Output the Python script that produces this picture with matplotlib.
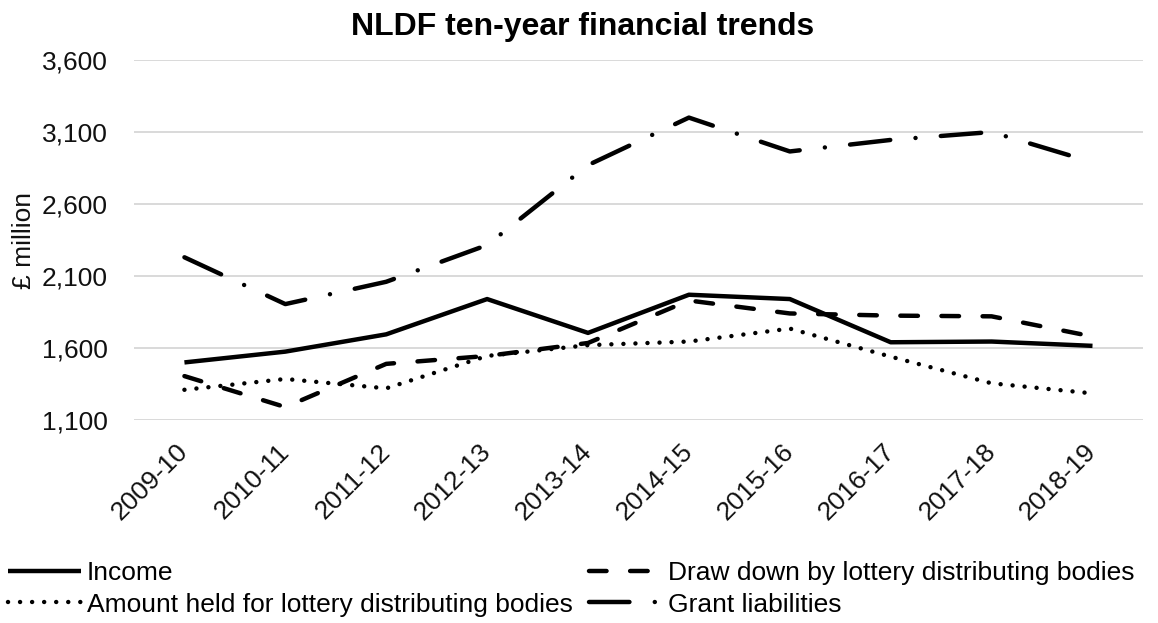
import matplotlib
matplotlib.use("Agg")
import matplotlib.pyplot as plt
from matplotlib.ticker import StrMethodFormatter

plt.rcParams["font.family"] = ["Liberation Sans", "DejaVu Sans"]

years = ["2009-10", "2010-11", "2011-12", "2012-13", "2013-14",
         "2014-15", "2015-16", "2016-17", "2017-18", "2018-19"]

# £ million
income = [1500, 1575, 1695, 1940, 1705, 1970, 1940, 1640, 1645, 1615]
draw_down = [1405, 1190, 1490, 1545, 1635, 1930, 1840, 1825, 1820, 1680]
amount_held = [1310, 1385, 1320, 1545, 1620, 1645, 1735, 1540, 1355, 1285]
grant_liabilities = [2230, 1905, 2060, 2315, 2870, 3200, 2965, 3045, 3100, 2890]

y_ticks = [1100, 1600, 2100, 2600, 3100, 3600]

FS = 19
LW = 3.2

fig = plt.figure(figsize=(11.58, 6.23), dpi=100)
ax = fig.add_axes([0.1157, 0.3258, 0.8713, 0.5779])

x = range(len(years))
common = dict(color="black", lw=LW, solid_joinstyle="round",
              dash_joinstyle="round", dash_capstyle="round",
              solid_capstyle="butt")

l_income, = ax.plot(x, income, label="Income", **common)
l_draw, = ax.plot(x, draw_down, label="Draw down by lottery distributing bodies",
                  dashes=(3.95, 5.3), **common)
l_held, = ax.plot(x, amount_held, label="Amount held for lottery distributing bodies",
                  dashes=(0.01, 2.7), **common)
l_grant, = ax.plot(x, grant_liabilities, label="Grant liabilities",
                   dashes=(9.1, 5.7, 0.01, 5.7), **common)

ax.set_xlim(-0.5, len(years) - 0.5)
ax.set_ylim(1100, 3600)
ax.set_yticks(y_ticks)
ax.yaxis.set_major_formatter(StrMethodFormatter("{x:,.0f}"))
ax.grid(axis="y", color="#d9d9d9", lw=1.4)
ax.set_axisbelow(True)
for s in ax.spines.values():
    s.set_visible(False)

ax.set_xticks(list(x))
ax.set_xticklabels(years, rotation=45, ha="right", va="center",
                   rotation_mode="anchor")
ax.tick_params(axis="x", length=0, pad=20, labelsize=FS, labelcolor="#111111")
ax.tick_params(axis="y", length=0, pad=19, labelsize=FS, labelcolor="#111111")
ax.set_ylabel("£ million", fontsize=FS, color="#111111", labelpad=4)

fig.text(0.503, 1 - 35 / 623, "NLDF ten-year financial trends",
         fontsize=23, fontweight="bold", ha="center", va="baseline")

fig.legend(handles=[l_income, l_held, l_draw, l_grant], ncol=2,
           loc="center left", bbox_to_anchor=(0.007, 0.055),
           frameon=False, fontsize=FS, handlelength=2.77,
           handletextpad=0.22, columnspacing=0.6, labelspacing=0.3,
           borderpad=0, borderaxespad=0)

fig.savefig("out.png", dpi=100)
